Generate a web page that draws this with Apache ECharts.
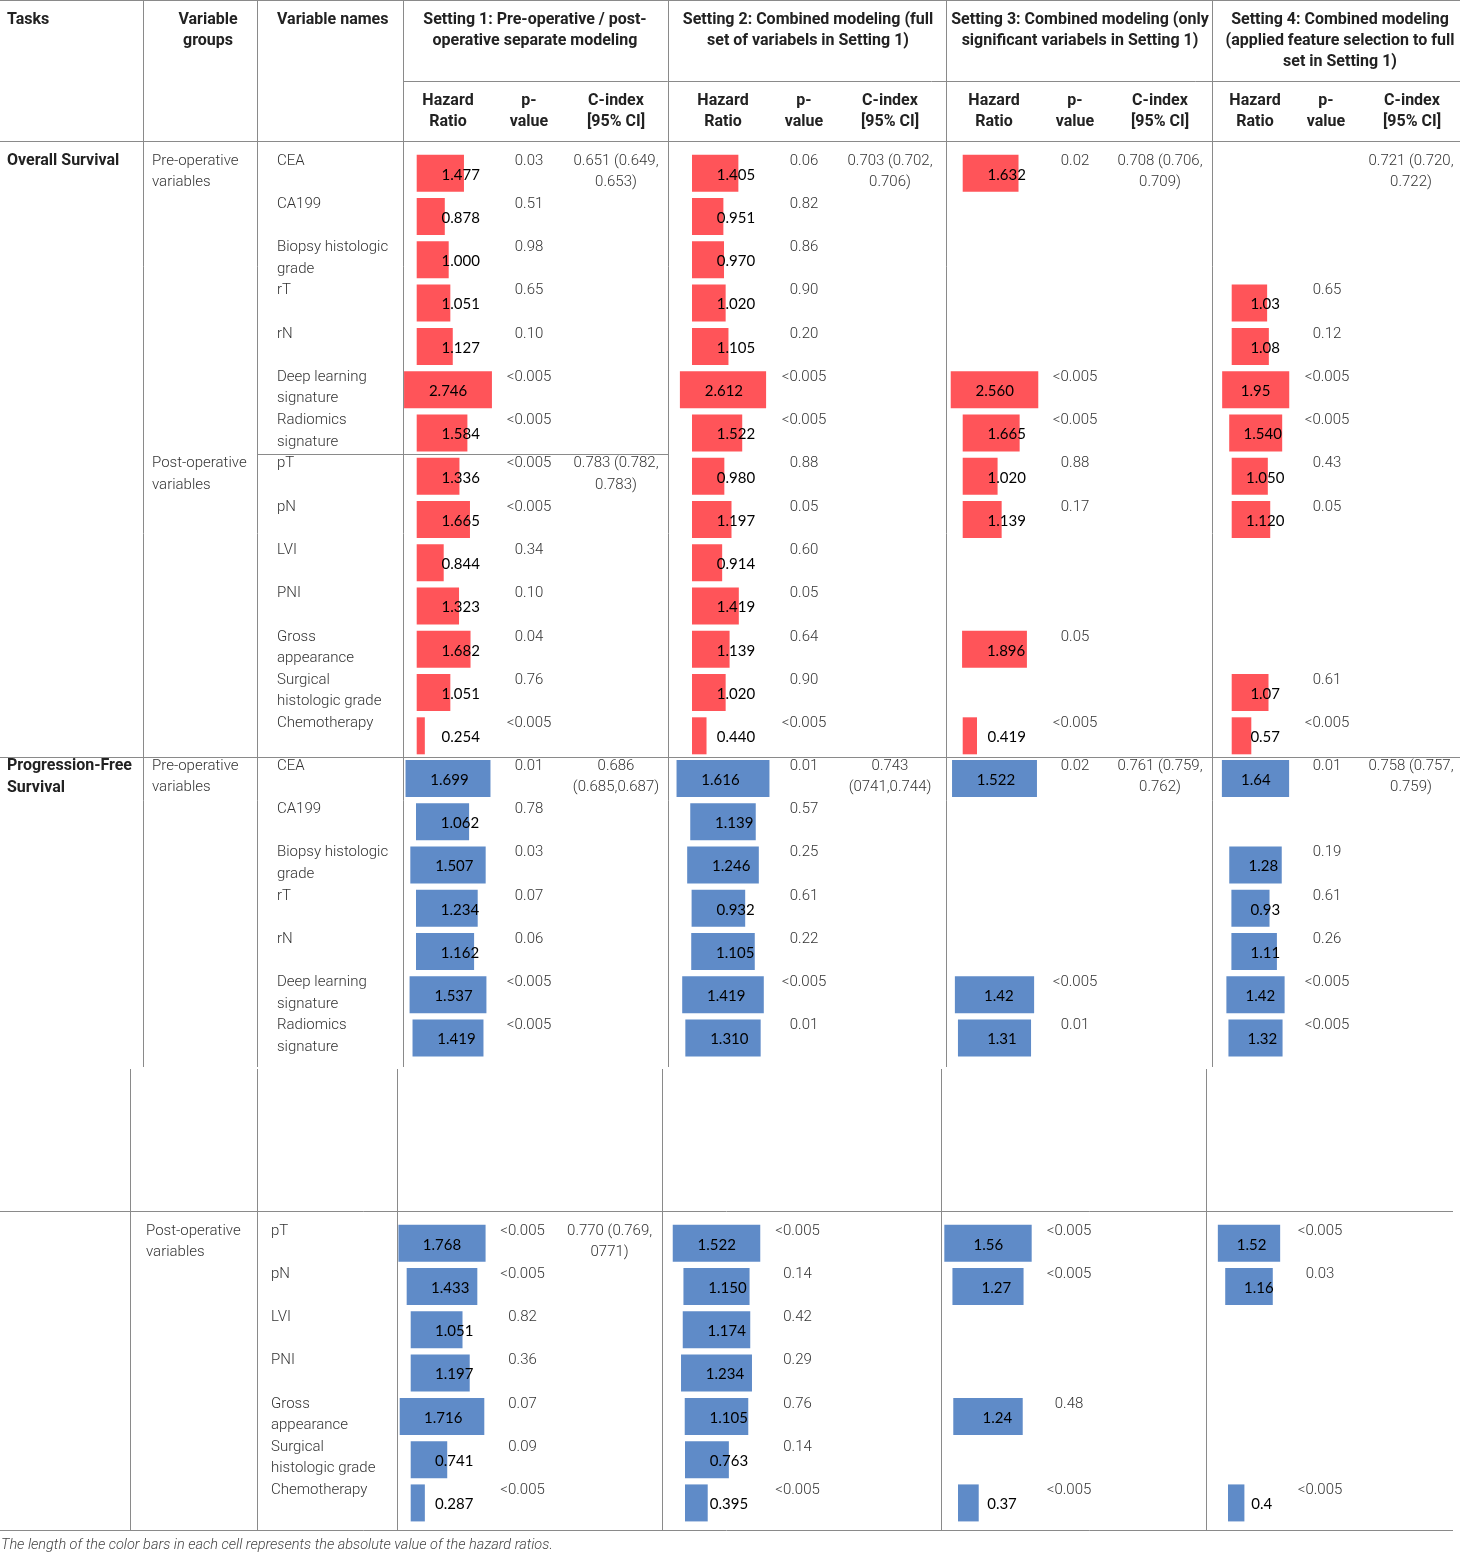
<!DOCTYPE html>
<html>
<head>
<meta charset="utf-8">
<title>Hazard ratio table</title>
<script src="https://cdn.jsdelivr.net/npm/echarts@6/dist/echarts.min.js"></script>
<style>
  html, body { margin: 0; padding: 0; background: #fff; }
  #main { width: 1460px; height: 1554px; }
</style>
</head>
<body>
<div id="main"></div>
<script>
// variable names
var preVars = ['CEA', 'CA199', 'Biopsy histologic\ngrade', 'rT', 'rN', 'Deep learning\nsignature', 'Radiomics\nsignature'];
var postVars = ['pT', 'pN', 'LVI', 'PNI', 'Gross\nappearance', 'Surgical\nhistologic grade', 'Chemotherapy'];

// header texts
var settingTitles = [
  'Setting 1: Pre-operative / post-\noperative separate modeling',
  'Setting 2: Combined modeling (full\nset of variabels in Setting 1)',
  'Setting 3: Combined modeling (only\nsignificant variabels in Setting 1)',
  'Setting 4: Combined modeling\n(applied feature selection to full\nset in Setting 1)'
];
var subHeads = ['Hazard\nRatio', 'p-\nvalue', 'C-index\n[95% CI]'];

// Overall survival (pre-operative rows then post-operative rows), one array per setting
var osHR = [
  ['1.477', '0.878', '1.000', '1.051', '1.127', '2.746', '1.584', '1.336', '1.665', '0.844', '1.323', '1.682', '1.051', '0.254'],
  ['1.405', '0.951', '0.970', '1.020', '1.105', '2.612', '1.522', '0.980', '1.197', '0.914', '1.419', '1.139', '1.020', '0.440'],
  ['1.632', '', '', '', '', '2.560', '1.665', '1.020', '1.139', '', '', '1.896', '', '0.419'],
  ['', '', '', '1.03', '1.08', '1.95', '1.540', '1.050', '1.120', '', '', '', '1.07', '0.57']
];
var osP = [
  ['0.03', '0.51', '0.98', '0.65', '0.10', '<0.005', '<0.005', '<0.005', '<0.005', '0.34', '0.10', '0.04', '0.76', '<0.005'],
  ['0.06', '0.82', '0.86', '0.90', '0.20', '<0.005', '<0.005', '0.88', '0.05', '0.60', '0.05', '0.64', '0.90', '<0.005'],
  ['0.02', '', '', '', '', '<0.005', '<0.005', '0.88', '0.17', '', '', '0.05', '', '<0.005'],
  ['', '', '', '0.65', '0.12', '<0.005', '<0.005', '0.43', '0.05', '', '', '', '0.61', '<0.005']
];
var osCIndex = [
  [[0, '0.651 (0.649,\n0.653)'], [7, '0.783 (0.782,\n0.783)']],
  [[0, '0.703 (0.702,\n0.706)']],
  [[0, '0.708 (0.706,\n0.709)']],
  [[0, '0.721 (0.720,\n0.722)']]
];

// Progression-free survival, pre-operative variables
var pfsPreHR = [
  ['1.699', '1.062', '1.507', '1.234', '1.162', '1.537', '1.419'],
  ['1.616', '1.139', '1.246', '0.932', '1.105', '1.419', '1.310'],
  ['1.522', '', '', '', '', '1.42', '1.31'],
  ['1.64', '', '1.28', '0.93', '1.11', '1.42', '1.32']
];
var pfsPreP = [
  ['0.01', '0.78', '0.03', '0.07', '0.06', '<0.005', '<0.005'],
  ['0.01', '0.57', '0.25', '0.61', '0.22', '<0.005', '0.01'],
  ['0.02', '', '', '', '', '<0.005', '0.01'],
  ['0.01', '', '0.19', '0.61', '0.26', '<0.005', '<0.005']
];
var pfsPreCIndex = [
  [[0, '0.686\n(0.685,0.687)']],
  [[0, '0.743\n(0741,0.744)']],
  [[0, '0.761 (0.759,\n0.762)']],
  [[0, '0.758 (0.757,\n0.759)']]
];

// Progression-free survival, post-operative variables
var pfsPostHR = [
  ['1.768', '1.433', '1.051', '1.197', '1.716', '0.741', '0.287'],
  ['1.522', '1.150', '1.174', '1.234', '1.105', '0.763', '0.395'],
  ['1.56', '1.27', '', '', '1.24', '', '0.37'],
  ['1.52', '1.16', '', '', '', '', '0.4']
];
var pfsPostP = [
  ['<0.005', '<0.005', '0.82', '0.36', '0.07', '0.09', '<0.005'],
  ['<0.005', '0.14', '0.42', '0.29', '0.76', '0.14', '<0.005'],
  ['<0.005', '<0.005', '', '', '0.48', '', '<0.005'],
  ['<0.005', '0.03', '', '', '', '', '<0.005']
];
var pfsPostCIndex = [
  [[0, '0.770 (0.769,\n0771)']],
  [],
  [],
  []
];

var footNote = 'The length of the color bars in each cell represents the absolute value of the hazard ratios.';

// ---------- layout ----------
var RED = '#ff5459';
var BLUE = '#5f8bc8';
var LINE = '#8a8a8a';
var TXT = '#333';
var PITCH = 43.27;

// hazard ratio cells: anchor x, centre x, px per unit, label offset from bar start
var osPanels = [
  {left: 416.7, center: 448, k: 32, off: 44},
  {left: 692, center: 723, k: 33, off: 44},
  {left: 962.7, center: 994.5, k: 34.2, off: 44},
  {left: 1231.7, center: 1255.7, k: 34.4, off: 33.5}
];
var pfsPrePanels = [
  {left: 416, center: 448, k: 50, off: 44},
  {left: 691.6, center: 723, k: 57.5, off: 44},
  {left: 958, center: 994.5, k: 55.8, off: 44},
  {left: 1231.4, center: 1255.5, k: 41, off: 34}
];
var pfsPostPanels = [
  {left: 410.7, center: 442, k: 49.3, off: 43.5},
  {left: 685, center: 716.5, k: 57.5, off: 44},
  {left: 958, center: 988, k: 56, off: 44},
  {left: 1228, center: 1249, k: 41, off: 33.7}
];

var upperCols = {groupsX: 152, namesX: 277, pX: [529, 804, 1075, 1327], cX: [616, 890, 1160, 1411]};
var lowerCols = {groupsX: 146, namesX: 271, pX: [522.5, 797.5, 1069, 1320], cX: [609.6, 884, 1154, 1405]};

var sections = [
  {task: 'Overall Survival', groups: [[0, 'Pre-operative\nvariables'], [7, 'Post-operative\nvariables']],
    names: preVars.concat(postVars), hr: osHR, p: osP, c: osCIndex, color: RED, panels: osPanels,
    firstCenter: 173.3, cols: upperCols},
  {task: 'Progression-Free\nSurvival', groups: [[0, 'Pre-operative\nvariables']],
    names: preVars, hr: pfsPreHR, p: pfsPreP, c: pfsPreCIndex, color: BLUE, panels: pfsPrePanels,
    firstCenter: 778.5, cols: upperCols},
  {task: '', groups: [[0, 'Post-operative\nvariables']],
    names: postVars, hr: pfsPostHR, p: pfsPostP, c: pfsPostCIndex, color: BLUE, panels: pfsPostPanels,
    firstCenter: 1243.3, cols: lowerCols}
];

function txt(x, firstLineCenter, text, opt) {
  opt = opt || {};
  var lh = opt.lh || 21.5;
  var al = opt.align || 'left';
  return {
    type: 'text', x: x, y: firstLineCenter - lh / 2, silent: true,
    style: {
      text: text,
      fontFamily: opt.family || 'Roboto',
      fontSize: opt.size || 15,
      fontWeight: opt.weight || 300,
      fontStyle: opt.fontStyle || 'normal',
      fill: opt.color || TXT,
      textAlign: al, align: al,
      textVerticalAlign: 'top', verticalAlign: 'top',
      lineHeight: lh
    }
  };
}
function hline(y, x1, x2) {
  return {type: 'line', silent: true, shape: {x1: x1, y1: y, x2: x2, y2: y}, style: {stroke: LINE, lineWidth: 1}};
}
function vline(x, y1, y2) {
  return {type: 'line', silent: true, shape: {x1: x, y1: y1, x2: x, y2: y2}, style: {stroke: LINE, lineWidth: 1}};
}

// bar starts at the cell anchor, or is centred in the cell when it is too long for that
function barRenderer(panel, labels, color) {
  return function (params, api) {
    var row = api.value(1);
    var p0 = api.coord([0, row]);
    var p1 = api.coord([api.value(0), row]);
    var len = p1[0] - p0[0];
    var cs = params.coordSys;
    var mid = cs.x + cs.width / 2;
    var start = Math.min(cs.x, mid - len / 2);
    return {
      type: 'group',
      children: [
        {type: 'rect', shape: {x: start, y: p0[1] - 18.5, width: len, height: 37}, style: {fill: color}},
        {type: 'text', x: start + panel.off, y: p0[1] + 1.5, style: {
          text: labels[params.dataIndex], fill: '#000',
          fontFamily: 'Lato', fontSize: 15,
          textAlign: 'center', align: 'center', textVerticalAlign: 'middle', verticalAlign: 'middle'
        }}
      ]
    };
  };
}

var grids = [], xAxes = [], yAxes = [], series = [], graphics = [];

sections.forEach(function (sec) {
  var n = sec.names.length;
  var top = sec.firstCenter - PITCH / 2;
  var cols = sec.cols;
  var line1 = function (i) { return sec.firstCenter + i * PITCH - 12.5; };

  if (sec.task) graphics.push(txt(7, line1(0), sec.task, {weight: 'bold', size: 16, color: '#222'}));
  sec.groups.forEach(function (g) { graphics.push(txt(cols.groupsX, line1(g[0]), g[1])); });
  sec.names.forEach(function (nm, i) { graphics.push(txt(cols.namesX, line1(i), nm)); });

  sec.panels.forEach(function (panel, s) {
    var gi = grids.length;
    var w = 2 * (panel.center - panel.left);
    grids.push({left: panel.left, top: top, width: w, height: n * PITCH, containLabel: false});
    xAxes.push({type: 'value', gridIndex: gi, min: 0, max: w / panel.k, show: false});
    yAxes.push({type: 'category', gridIndex: gi, data: sec.names, inverse: true, show: false});
    var items = [], labels = [];
    sec.hr[s].forEach(function (v, i) {
      if (v !== '') { items.push([parseFloat(v), i]); labels.push(v); }
    });
    series.push({
      type: 'custom', coordinateSystem: 'cartesian2d', xAxisIndex: gi, yAxisIndex: gi,
      encode: {x: 0, y: 1}, data: items, silent: true,
      renderItem: barRenderer(panel, labels, sec.color)
    });
    sec.p[s].forEach(function (v, i) {
      if (v !== '') graphics.push(txt(cols.pX[s], line1(i), v, {align: 'center'}));
    });
    sec.c[s].forEach(function (c) {
      graphics.push(txt(cols.cX[s], line1(c[0]), c[1], {align: 'center'}));
    });
  });
});

// header
var hdr = {weight: 'bold', size: 16, color: '#222', lh: 21};
graphics.push(txt(7, 20, 'Tasks', hdr));
graphics.push(txt(208, 20, 'Variable\ngroups', {weight: 'bold', size: 16, color: '#222', lh: 21, align: 'center'}));
graphics.push(txt(277, 20, 'Variable names', hdr));
var titleX = [535, 808, 1080, 1340];
var subX = [[448, 529, 616], [723, 804, 890], [994, 1075, 1160], [1255, 1326, 1412]];
settingTitles.forEach(function (t, s) {
  graphics.push(txt(titleX[s], 20, t, {weight: 'bold', size: 16, color: '#222', lh: 21, align: 'center'}));
  subHeads.forEach(function (h, j) {
    graphics.push(txt(subX[s][j], 101, h, {weight: 'bold', size: 16, color: '#222', lh: 21, align: 'center'}));
  });
});

// table rules
graphics.push(hline(0.5, 0, 1460));
graphics.push(hline(81.5, 403, 1460));
graphics.push(hline(141.5, 0, 1460));
graphics.push(hline(454.5, 257, 668));
graphics.push(hline(757.5, 0, 1460));
graphics.push(hline(1211.5, 0, 1453));
graphics.push(hline(1530.5, 0, 1453));
[143, 257, 403, 668, 946, 1212].forEach(function (x) { graphics.push(vline(x + 0.5, 0, 1067)); });
[130, 257, 397, 662, 941, 1206].forEach(function (x) { graphics.push(vline(x + 0.5, 1069, 1530)); });

graphics.push(txt(1, 1545, footNote, {size: 14.5, fontStyle: 'italic', color: '#444', lh: 17}));

var chart = echarts.init(document.getElementById('main'));
chart.setOption({
  animation: false,
  backgroundColor: '#fff',
  grid: grids,
  xAxis: xAxes,
  yAxis: yAxes,
  series: series,
  graphic: {elements: graphics}
});
</script>
</body>
</html>
